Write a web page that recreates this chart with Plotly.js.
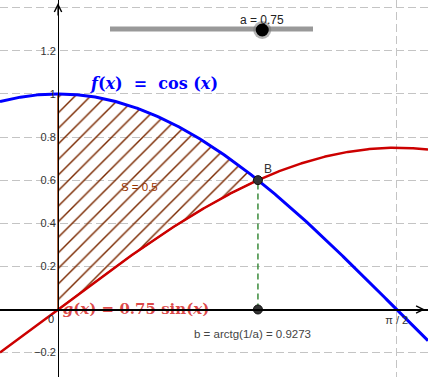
<!DOCTYPE html>
<html>
<head>
<meta charset="utf-8">
<script src="https://cdn.plot.ly/plotly-3.0.1.min.js"></script>
<style>html,body{margin:0;padding:0;background:#fff;}#chart{width:428px;height:377px;}</style>
</head>
<body>
<div id="chart"></div>
<script>
// ---- data ----
const sliderA = [0.75];            // parameter a
const sliderRange = [0, 1];        // slider min / max
const areaS = [0.5];               // S value shown
const bValue = [0.9273];           // b = arctg(1/a)
const yTickVals = [-0.2, 0, 0.2, 0.4, 0.6, 0.8, 1, 1.2, 1.4];
const yTickText = ['\u22120.2', '', '0.2', '0.4', '0.6', '0.8', '1', '1.2', ''];
const xTickVals = [0, Math.PI / 2];
const xTickText = ['', '\u03c0 / 2'];

// ---- view ----
const W = 428, H = 377;
const xr = [-0.269, 1.716];
const yr = [-0.3131, 1.4355];
const kx = (xr[1] - xr[0]) / W, ky = (yr[1] - yr[0]) / H;

const a = sliderA[0];
const b = Math.atan(1 / a);
const f = x => Math.cos(x);
const g = x => a * Math.sin(x);

const xs = [];
for (let i = 0; i <= 400; i++) xs.push(xr[0] + (xr[1] - xr[0]) * i / 400);

// region between f and g on [0, b]
const rx = [], ry = [];
for (let i = 0; i <= 100; i++) { const x = b * i / 100; rx.push(x); ry.push(f(x)); }
for (let i = 100; i >= 0; i--) { const x = b * i / 100; rx.push(x); ry.push(g(x)); }
rx.push(0); ry.push(f(0));

const brown = '#993300';
const blue = '#0000ff';
const red = '#cc0000';
const serif = 'DejaVu Serif, serif';
const sans = 'Liberation Sans, Arial, sans-serif';
const nb = '\u00a0';

const traces = [
  {x: rx, y: ry, type: 'scatter', mode: 'lines', fill: 'toself',
   fillcolor: 'rgba(0,0,0,0)',
   fillpattern: {shape: '/', fgcolor: '#7a2800', bgcolor: 'rgba(0,0,0,0)', size: 11, solidity: 0.13},
   line: {color: brown, width: 1.5}, hoverinfo: 'skip'},
  {x: [b, b], y: [0, g(b)], type: 'scatter', mode: 'lines',
   line: {color: '#3c8c3c', width: 1.5, dash: '6px,4px'}},
  {x: xs, y: xs.map(f), type: 'scatter', mode: 'lines', line: {color: blue, width: 3}},
  {x: xs, y: xs.map(g), type: 'scatter', mode: 'lines', line: {color: red, width: 2.5}},
  {x: [0.022], y: [-0.003], type: 'scatter', mode: 'text', textposition: 'middle right',
   text: ['<b><i>g</i>(<i>x</i>) = 0.75 sin(<i>x</i>)</b>'],
   textfont: {family: serif, size: 15, color: 'rgba(214,40,40,0.85)'}},
  {x: [b, b], y: [g(b), 0], type: 'scatter', mode: 'markers',
   marker: {size: 9, color: '#333333', line: {color: '#111', width: 1}}}
];

const px2x = p => p / W;
const py2y = p => 1 - p / H;
const sL = 110, sR = 313, sY = 29;
const knobX = sL + (sR - sL) * (a - sliderRange[0]) / (sliderRange[1] - sliderRange[0]);

const shapes = [
  // slider
  {type: 'line', xref: 'paper', yref: 'paper', x0: px2x(sL), x1: px2x(sR), y0: py2y(sY), y1: py2y(sY),
   line: {color: '#999999', width: 5}},
  {type: 'circle', xref: 'paper', yref: 'paper', xsizemode: 'pixel', ysizemode: 'pixel',
   xanchor: px2x(knobX), yanchor: py2y(sY + 1), x0: -9, x1: 9, y0: -9, y1: 9,
   fillcolor: 'rgba(120,120,120,0.55)', line: {width: 0}},
  {type: 'circle', xref: 'paper', yref: 'paper', xsizemode: 'pixel', ysizemode: 'pixel',
   xanchor: px2x(knobX), yanchor: py2y(sY + 1), x0: -6.5, x1: 6.5, y0: -6.5, y1: 6.5,
   fillcolor: '#000', line: {width: 0}}
];

const annotations = [
  // axis arrows
  {x: xr[1] - 3 * kx, y: 0, ax: -14, ay: 0, showarrow: true, arrowhead: 5, arrowsize: 1.2,
   arrowwidth: 1.2, arrowcolor: '#000', text: ''},
  {x: 0, y: yr[1] - 3 * ky, ax: 0, ay: 14, showarrow: true, arrowhead: 5, arrowsize: 1.2,
   arrowwidth: 1.2, arrowcolor: '#000', text: ''},
  {xref: 'paper', yref: 'paper', x: px2x(knobX), y: py2y(11), text: 'a = 0.75', showarrow: false,
   font: {family: sans, size: 12, color: '#222'}},
  {x: 0.139, y: 1.046, text: '<b><i>f</i>(<i>x</i>)' + nb + nb + '=' + nb + nb + 'cos' + nb + '(<i>x</i>)</b>', showarrow: false,
   xanchor: 'left', font: {family: serif, size: 16, color: blue}},
  {x: 0.376, y: 0.568, text: 'S = ' + areaS[0], showarrow: false,
   font: {family: sans, size: 11.5, color: brown}},
  {x: 0.975, y: 0.652, text: 'B', showarrow: false,
   font: {family: sans, size: 12, color: '#333'}},
  {x: 0.9, y: -0.114, text: 'b = arctg(1/a) = ' + bValue[0], showarrow: false,
   font: {family: sans, size: 11.5, color: '#444'}},
  {x: -0.034, y: -0.045, text: '0', showarrow: false,
   font: {family: sans, size: 11, color: '#222'}}
];

const layout = {
  width: W, height: H,
  margin: {l: 0, r: 0, t: 0, b: 0},
  paper_bgcolor: '#fff', plot_bgcolor: '#fff',
  showlegend: false,
  xaxis: {range: xr, anchor: 'free', position: (0 - yr[0]) / (yr[1] - yr[0]),
    tickvals: xTickVals, ticktext: xTickText, ticks: '', showline: true, linecolor: '#000', linewidth: 1.3,
    zeroline: false, showgrid: true, gridcolor: '#c4c4c4', griddash: '8px,4px', gridwidth: 1,
    tickfont: {family: sans, size: 11, color: '#333'}, fixedrange: true},
  yaxis: {range: yr, anchor: 'free', position: (0 - xr[0]) / (xr[1] - xr[0]),
    tickvals: yTickVals, ticktext: yTickText, ticks: '', showline: true, linecolor: '#000', linewidth: 1.3,
    zeroline: false, showgrid: true, gridcolor: '#c4c4c4', griddash: '8px,4px', gridwidth: 1,
    tickfont: {family: sans, size: 11, color: '#333'}, fixedrange: true},
  shapes: shapes,
  annotations: annotations
};

Plotly.newPlot('chart', traces, layout, {displayModeBar: false, staticPlot: true});
</script>
</body>
</html>
